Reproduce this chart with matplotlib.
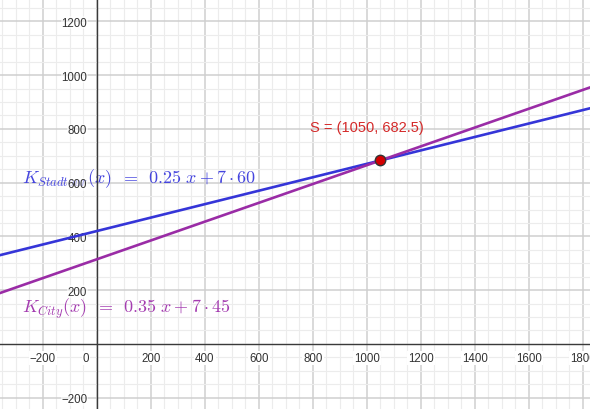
import numpy as np
import matplotlib
matplotlib.use("Agg")
import matplotlib.pyplot as plt
from matplotlib.ticker import MultipleLocator
from matplotlib.transforms import ScaledTranslation

# ---- data ----
slope_stadtour = 0.25
intercept_stadtour = 7 * 60   # 420
slope_city = 0.35
intercept_city = 7 * 45       # 315
S_point = (1050, 682.5)
x_ticks = [-200, 0, 200, 400, 600, 800, 1000, 1200, 1400, 1600, 1800]
y_ticks = [-200, 200, 400, 600, 800, 1000, 1200]
label_stadtour = r'$K_{Stadtour}(x)\ \,=\ \,0.25\ x + 7\cdot 60$'
label_city = r'$K_{City}(x)\ \,=\ \,0.35\ x + 7\cdot 45$'
label_S = "S = (1050, 682.5)"

plt.rcParams['mathtext.fontset'] = 'cm'
plt.rcParams['font.family'] = ['Liberation Sans', 'DejaVu Sans']

fig = plt.figure(figsize=(5.9, 4.1), dpi=100)
xmin, xmax = -359, 1826
ymin, ymax = -242, 1283

# background axes: grid only
ax_bg = fig.add_axes([0, 0, 1, 1], zorder=0)
ax_bg.set_xlim(xmin, xmax)
ax_bg.set_ylim(ymin, ymax)
ax_bg.xaxis.set_minor_locator(MultipleLocator(50))
ax_bg.yaxis.set_minor_locator(MultipleLocator(50))
ax_bg.set_xticks(x_ticks)
ax_bg.set_yticks(y_ticks)
ax_bg.grid(which='minor', color='#ececec', lw=0.8)
ax_bg.grid(which='major', color='#cfcfcf', lw=1.1)
ax_bg.tick_params(which='both', length=0, labelbottom=False, labelleft=False)
for s in ax_bg.spines.values():
    s.set_visible(False)

# main axes
ax = fig.add_axes([0, 0, 1, 1], zorder=1)
ax.patch.set_visible(False)
ax.set_xlim(xmin, xmax)
ax.set_ylim(ymin, ymax)
ax.set_xticks(x_ticks)
ax.set_xticklabels([("\u2212" + str(-t)) if t < 0 else str(t) for t in x_ticks])
ax.set_yticks(y_ticks)
ax.set_yticklabels([("\u2212" + str(-t)) if t < 0 else str(t) for t in y_ticks])
for s in ['top', 'right']:
    ax.spines[s].set_visible(False)
ax.spines['left'].set_position(('data', 0))
ax.spines['bottom'].set_position(('data', 0))
for s in ['left', 'bottom']:
    ax.spines[s].set_color('#3a3a3a')
    ax.spines[s].set_linewidth(1.0)
    ax.spines[s].set_zorder(2.5)
ax.xaxis.set_zorder(2.5)
ax.yaxis.set_zorder(2.5)
ax.tick_params(which='both', length=0)
ax.tick_params(axis='x', pad=6, labelsize=8.3, labelcolor='#333333')
ax.tick_params(axis='y', pad=7, labelsize=8.3, labelcolor='#333333')

bbox_x = dict(facecolor='white', edgecolor='none', pad=0.8)
bbox_y = dict(facecolor='white', edgecolor='none', pad=0.3, alpha=0.55)
fig.canvas.draw()
for tick in ax.xaxis.get_major_ticks():
    tick.label1.set_bbox(bbox_x)
    if tick.get_loc() == 0:
        # origin label sits to the left of the vertical axis
        tick.label1.set_transform(tick.label1.get_transform() +
                                  ScaledTranslation(-11 / 100, 0, fig.dpi_scale_trans))
for tick in ax.yaxis.get_major_ticks():
    tick.label1.set_bbox(bbox_y)

xs = np.array([xmin, xmax])
ax.plot(xs, slope_stadtour * xs + intercept_stadtour, color='#3535d8', lw=1.9, zorder=3)
ax.plot(xs, slope_city * xs + intercept_city, color='#9a2ca6', lw=1.9, zorder=3)
ax.plot([S_point[0]], [S_point[1]], 'o', ms=7.5, mfc='#d40000', mec='#333333', mew=1.0, zorder=5)

ax.text(-278, 603, label_stadtour, color='#4545de', fontsize=13, ha='left', va='baseline', zorder=2)
ax.text(-278, 119, label_city, color='#a43cb0', fontsize=13, ha='left', va='baseline', zorder=2)
ax.text(789, 807, label_S, color='#d42a2a', fontsize=10.5, ha='left', va='center', zorder=4)

fig.savefig('out.png', dpi=100)
